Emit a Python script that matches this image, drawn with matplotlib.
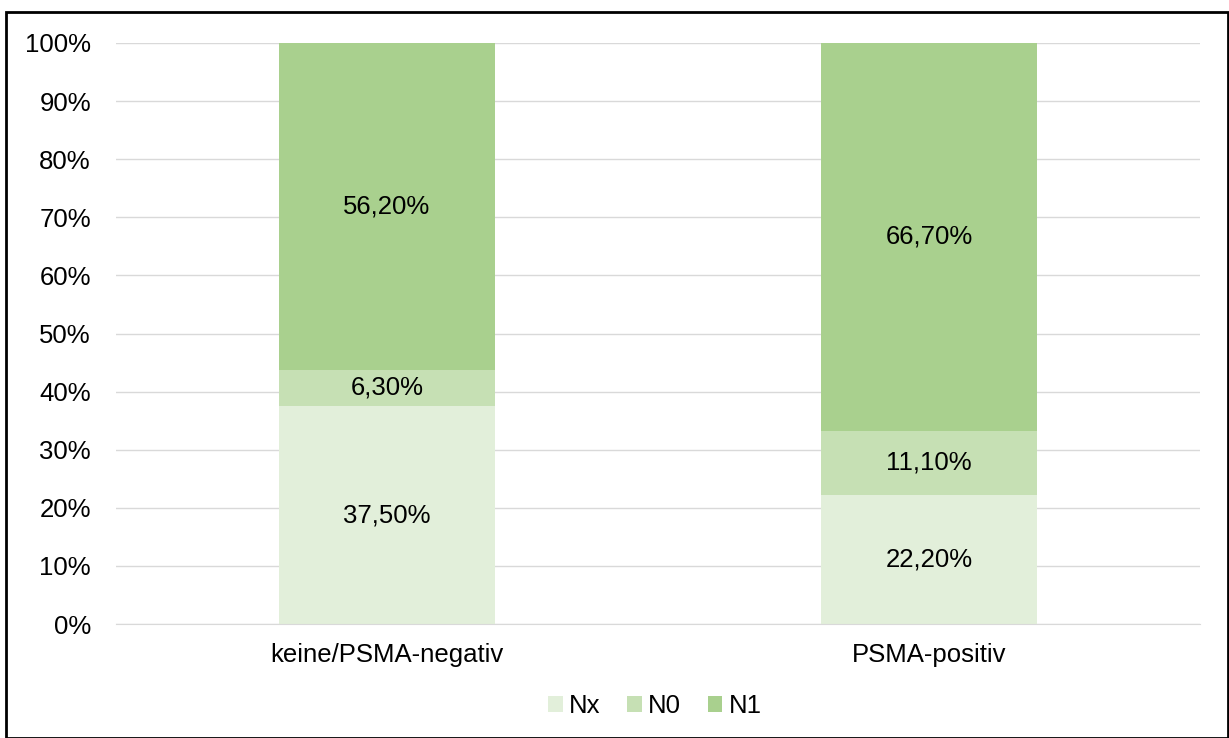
import numpy as np
import matplotlib.pyplot as plt
from matplotlib.patches import Rectangle

plt.rcParams['font.family'] = ['Liberation Sans', 'DejaVu Sans']

# data
categories = ['keine/PSMA-negativ', 'PSMA-positiv']
series = ['Nx', 'N0', 'N1']
values = {
    'Nx': [37.5, 22.2],
    'N0': [6.3, 11.1],
    'N1': [56.2, 66.7],
}
labels = {
    'Nx': ['37,50%', '22,20%'],
    'N0': ['6,30%', '11,10%'],
    'N1': ['56,20%', '66,70%'],
}
colors = {'Nx': '#E2EFDA', 'N0': '#C6E0B4', 'N1': '#A9D08E'}
fs = 18.5

fig = plt.figure(figsize=(12.29, 7.38), dpi=100)
ax = fig.add_axes([116 / 1229, 1 - 624 / 738, (1200 - 116) / 1229, (624 - 43) / 738])

x = np.arange(len(categories))
bottom = np.zeros(len(categories))
for s in series:
    v = np.array(values[s])
    ax.bar(x, v, 0.4, bottom=bottom, color=colors[s], label=s, zorder=2)
    for xi, yi, bi, lab in zip(x, v, bottom, labels[s]):
        ax.text(xi, bi + yi / 2, lab, ha='center', va='center', fontsize=fs, color='#000000', zorder=3)
    bottom += v

ax.set_xlim(-0.5, 1.5)
ax.set_ylim(0, 100)
ax.set_yticks(np.arange(0, 101, 10))
ax.set_yticklabels([f'{t}%' for t in range(0, 101, 10)], fontsize=fs)
ax.set_xticks(x)
ax.set_xticklabels(categories, fontsize=fs)
ax.yaxis.grid(True, color='#D9D9D9', linewidth=1, zorder=0)
ax.set_axisbelow(True)
for sp in ['top', 'right', 'left']:
    ax.spines[sp].set_visible(False)
ax.spines['bottom'].set_color('#D9D9D9')
ax.tick_params(axis='both', length=0)
ax.tick_params(axis='y', pad=18)
ax.tick_params(axis='x', pad=14)

fig.legend(loc='center', bbox_to_anchor=(655 / 1229, 1 - 706 / 738), ncol=3, frameon=False,
           fontsize=fs, handlelength=0.55, handleheight=0.55, handletextpad=0.25, columnspacing=1.05)

fig.patches.append(Rectangle((6 / 1229, 0), (1228 - 6) / 1229, 1 - 12 / 738, transform=fig.transFigure,
                             fill=False, edgecolor='black', linewidth=2))

fig.savefig('out.png', dpi=100)
